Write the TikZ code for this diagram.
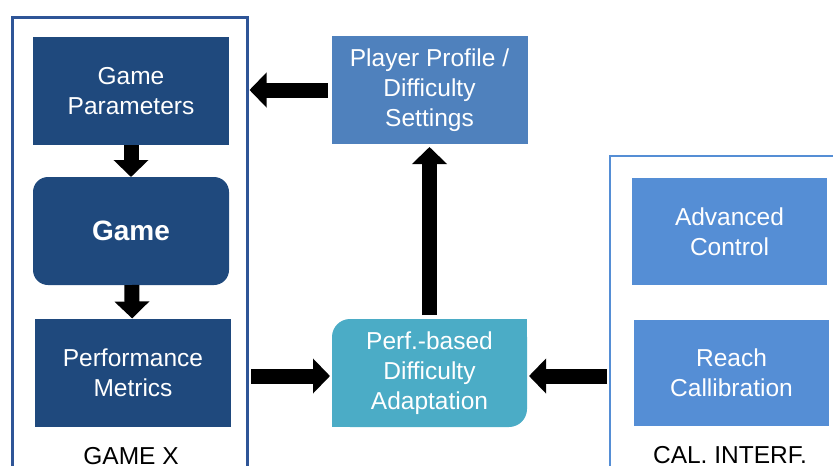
\documentclass[tikz,border=0pt]{standalone}
\usepackage{fontspec}
\setmainfont{Liberation Sans}
\usepackage{tikz}
\usetikzlibrary{arrows.meta, positioning, calc}
\definecolor{GameBlue}{HTML}{1F497D}
\definecolor{FrameBlue}{HTML}{2F5597}
\definecolor{ProfileBlue}{HTML}{4F81BD}
\definecolor{AdaptTeal}{HTML}{4BACC6}
\definecolor{CalBlue}{HTML}{558ED5}

\begin{document}
\begin{tikzpicture}[x=1pt, y=-1pt,
    box/.style={minimum width=196pt, minimum height=108pt, inner sep=0pt, outer sep=0pt,
      align=center, text=white, font=\fontsize{24.5}{30}\selectfont},
    gamebox/.style={box, fill=GameBlue},
    frame/.style={draw, line width=3pt, outer sep=0pt, inner sep=0pt, anchor=north west},
    label/.style={font=\fontsize{24.5}{30}\selectfont},
    bigarrow/.style={line width=15pt, -{Triangle[length=17pt, width=34pt]}}]
  \useasboundingbox (0,0) rectangle (833,466);
  \clip (0,0) rectangle (833,466);

  % frames
  \node[frame, FrameBlue, minimum width=235pt, minimum height=490pt] (gamex) at (12,17) {};
  \node[frame, CalBlue, line width=2.5pt, minimum width=240pt, minimum height=330pt] (calif) at (610,156) {};

  % game side
  \node[gamebox] (params) at (131,91) {Game\\Parameters};
  \node[gamebox, rounded corners=15pt] (game) at (131,231) {\fontsize{28}{30}\selectfont\bfseries Game};
  \node[gamebox] (metrics) at (133,372.5) {Performance\\Metrics};
  \node[label] (gamexlab) at (131,456) {GAME X};

  % adaptation
  \node[box, fill=ProfileBlue] (profile) at (429.5,90) {Player Profile /\\Difficulty\\Settings};
  \node[box, minimum width=195pt, fill=AdaptTeal, rounded corners=18pt] (adapt) at (429.5,373) {Perf.-based\\Difficulty\\Adaptation};
  \fill[AdaptTeal] (adapt.north east) rectangle ++(-20,20);
  \fill[AdaptTeal] (adapt.south west) rectangle ++(20,-20);

  % calibration side
  \node[box, minimum width=195pt, minimum height=107pt, fill=CalBlue] (advctrl) at (729.5,231.5) {Advanced\\Control};
  \node[box, minimum width=195pt, minimum height=106pt, fill=CalBlue] (reach) at (731.5,373) {Reach\\Callibration};
  \node[label] (callab) at (730,455) {CAL. INTERF.};

  % arrows
  \draw[bigarrow] (params) -- (game);
  \draw[bigarrow] (game) -- (metrics);
  \draw[bigarrow, shorten <=4pt, shorten >=2.5pt] (profile.west) -- (profile.west -| gamex.east);
  \draw[bigarrow, shorten <=4pt, shorten >=3pt] (adapt.north) -- (profile.south);
  \draw[bigarrow, shorten <=4pt, shorten >=2pt] ($(adapt.west -| gamex.east)+(0,3)$) -- ($(adapt.west)+(0,3)$);
  \draw[bigarrow, shorten <=3pt, shorten >=2pt] ($(adapt.east -| calif.west)+(0,3)$) -- ($(adapt.east)+(0,3)$);
\end{tikzpicture}
\end{document}
